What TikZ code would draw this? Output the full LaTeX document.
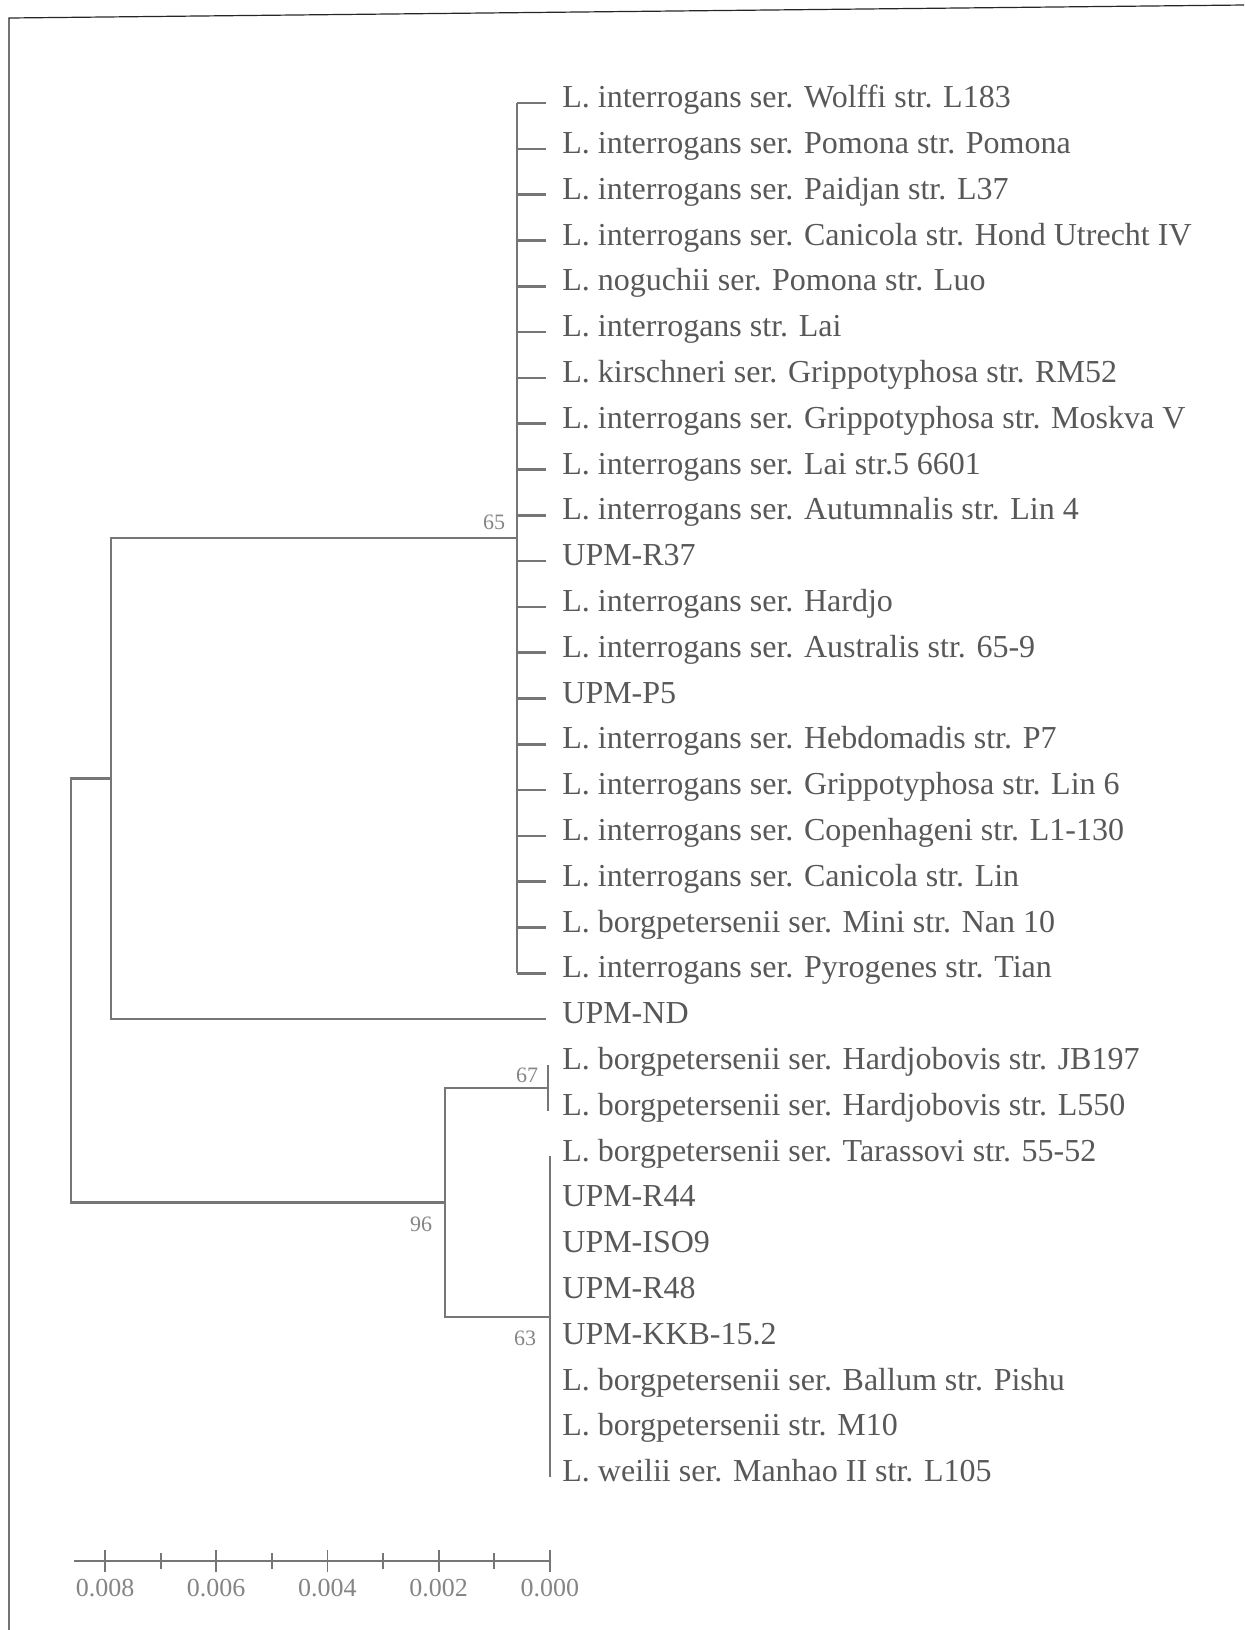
\documentclass[tikz,border=0pt]{standalone}
\usepackage{fontspec}
\setmainfont{Liberation Serif}
\definecolor{branchc}{HTML}{767676}
\definecolor{labelc}{HTML}{585858}
\definecolor{scalec}{HTML}{858585}
\tikzset{
  branch/.style={draw=branchc, line width=1.3pt},
  taxon/.style={anchor=mid west, inner sep=0pt, text=labelc, font=\fontsize{16}{16}\selectfont},
  boot/.style={inner sep=0pt, text=scalec, font=\fontsize{11}{11}\selectfont},
  sbtick/.style={draw=branchc, line width=0.9pt},
  sblab/.style={inner sep=0pt, text=scalec, font=\fontsize{13}{13}\selectfont},
}

\begin{document}
\begin{tikzpicture}[x=0.5pt, y=-0.5pt]
  \useasboundingbox (0,0) rectangle (1244,1630);
  % frame of the scan
  \draw[black!85, line width=0.6pt] (1244,5) -- (9,18) -- (9,1630);
  % taxa
  \foreach \lab [count=\i from 0] in {L. interrogans ser. Wolffi str. L183,
      L. interrogans ser. Pomona str. Pomona,
      L. interrogans ser. Paidjan str. L37,
      L. interrogans ser. Canicola str. Hond Utrecht IV,
      L. noguchii ser. Pomona str. Luo,
      L. interrogans str. Lai,
      L. kirschneri ser. Grippotyphosa str. RM52,
      L. interrogans ser. Grippotyphosa str. Moskva V,
      L. interrogans ser. Lai str.5 6601,
      L. interrogans ser. Autumnalis str. Lin 4,
      UPM-R37,
      L. interrogans ser. Hardjo,
      L. interrogans ser. Australis str. 65-9,
      UPM-P5,
      L. interrogans ser. Hebdomadis str. P7,
      L. interrogans ser. Grippotyphosa str. Lin 6,
      L. interrogans ser. Copenhageni str. L1-130,
      L. interrogans ser. Canicola str. Lin,
      L. borgpetersenii ser. Mini str. Nan 10,
      L. interrogans ser. Pyrogenes str. Tian,
      UPM-ND,
      L. borgpetersenii ser. Hardjobovis str. JB197,
      L. borgpetersenii ser. Hardjobovis str. L550,
      L. borgpetersenii ser. Tarassovi str. 55-52,
      UPM-R44,
      UPM-ISO9,
      UPM-R48,
      UPM-KKB-15.2,
      L. borgpetersenii ser. Ballum str. Pishu,
      L. borgpetersenii str. M10,
      L. weilii ser. Manhao II str. L105}
    \node[taxon] (tx\i) at (562,{103+45.8*\i}) {\lab};
  % tips
  \foreach \i in {0,...,20} \coordinate (tp\i) at ([xshift=-8pt]tx\i.mid west);
  \foreach \i in {21,22} \coordinate (tp\i) at ([xshift=-7pt]tx\i.mid west);
  \foreach \i in {23,...,30} \coordinate (tp\i) at ([xshift=-6pt]tx\i.mid west);
  % inner nodes
  \coordinate (n65) at (517,538);
  \coordinate (nA) at (111,778.5);
  \coordinate (n67) at (548,1088);
  \coordinate (n63) at (550,1317);
  \coordinate (n96) at (445,1202.5);
  \coordinate (root) at (71,990);
  % branches
  \draw[branch] (tp0 -| n65) -- (tp19 -| n65);
  \foreach \i in {0,...,19} \draw[branch] (tp\i -| n65) -- (tp\i);
  \draw[branch] (nA) |- (n65);
  \draw[branch] (nA) |- (tp20);
  \draw[branch] (tp21) -- (tp22);
  \draw[branch] (tp23) -- (tp30);
  \draw[branch] (n96) |- (n67);
  \draw[branch] (n96) |- (n63);
  \draw[branch] (root) |- (nA);
  \draw[branch] (root) |- (n96);
  % bootstrap values
  \node[boot] (b65) at (494,522) {65};
  \node[boot] (b67) at (527,1075) {67};
  \node[boot] (b96) at (421,1224) {96};
  \node[boot] (b63) at (525,1338) {63};
  % scale bar
  \coordinate (sbL) at (74,1561);
  \coordinate (sbR) at (551,1561);
  \draw[sbtick] (sbL) -- (sbR);
  \foreach \k in {0,...,8}{
    \pgfmathsetmacro{\hh}{ifthenelse(mod(\k,2)==0,11,8)}
    \draw[sbtick] ({105+55.6*\k},{1561-\hh}) -- ({105+55.6*\k},{1561+\hh});
  }
  \foreach \v [count=\k from 0] in {0.008,0.006,0.004,0.002,0.000}
    \node[sblab] (sv\k) at ({105+111.2*\k},1588) {\v};
\end{tikzpicture}
\end{document}
